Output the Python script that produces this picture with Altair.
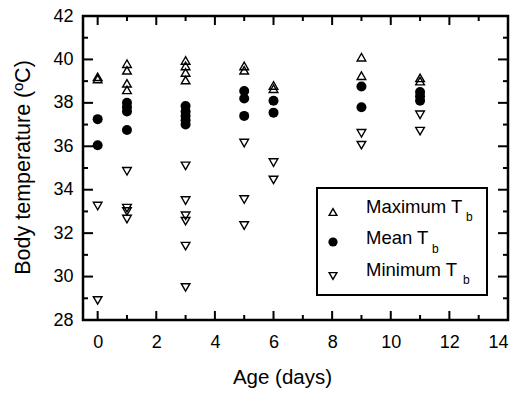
import altair as alt
import pandas as pd

# ---- data ----
max_days = [0, 0, 1, 1, 1, 1, 3, 3, 3, 3, 5, 5, 6, 6, 9, 9, 11, 11]
max_vals = [39.2, 39.1, 39.8, 39.5, 38.9, 38.6, 39.95, 39.7, 39.4, 39.05, 39.7, 39.5, 38.8, 38.65, 40.1, 39.25, 39.15, 39.0]

mean_days = [0, 0, 1, 1, 1, 1, 3, 3, 3, 3, 3, 5, 5, 5, 6, 6, 9, 9, 11, 11, 11]
mean_vals = [37.25, 36.05, 38.0, 37.8, 37.6, 36.75, 37.85, 37.6, 37.4, 37.2, 37.0, 38.55, 38.2, 37.4, 38.1, 37.55, 38.75, 37.8, 38.5, 38.3, 38.1]

min_days = [0, 0, 1, 1, 1, 1, 3, 3, 3, 3, 3, 3, 5, 5, 5, 6, 6, 9, 9, 11, 11]
min_vals = [33.25, 28.9, 34.85, 33.15, 33.0, 32.65, 35.1, 33.5, 32.8, 32.55, 31.4, 29.5, 36.15, 33.55, 32.35, 35.25, 34.45, 36.6, 36.05, 37.45, 36.7]

x_major = [0, 2, 4, 6, 8, 10, 12, 14]
x_minor = [1, 3, 5, 7, 9, 11, 13]
y_major = [28, 30, 32, 34, 36, 38, 40, 42]
y_minor = [29, 31, 33, 35, 37, 39, 41]

legend_labels = ["Maximum T", "Mean T", "Minimum T"]
legend_sub = "b"

W, H = 425, 304
FONT = "Liberation Sans"

xs = alt.Scale(domain=[-0.5, 14], nice=False, zero=False)
ys = alt.Scale(domain=[28, 42], nice=False, zero=False)

df = pd.concat([
    pd.DataFrame({"day": max_days, "temp": max_vals, "series": "max"}),
    pd.DataFrame({"day": mean_days, "temp": mean_vals, "series": "mean"}),
    pd.DataFrame({"day": min_days, "temp": min_vals, "series": "min"}),
])

base = alt.Chart(df)

xaxis = alt.Axis(values=x_major, title="Age (days)", domain=False, ticks=False, grid=False,
                 labelFontSize=18, labelPadding=13, labelFont=FONT, labelColor="black",
                 titleFont=FONT, titleFontSize=20.5, titleFontWeight="normal", titleColor="black",
                 titleX=199, titleY=57, titleBaseline="middle", format="d")
yaxis = alt.Axis(values=y_major, title="Body temperature (ºC)", domain=False, ticks=False, grid=False,
                 labelFontSize=18, labelPadding=10, labelFont=FONT, labelColor="black",
                 titleFont=FONT, titleFontSize=21.5, titleFontWeight="normal", titleColor="black",
                 titleX=-60, titleY=151, titleAngle=-90, titleBaseline="middle", format="d")


def X(f):
    return alt.X(f, scale=xs, axis=xaxis)


def Y(f):
    return alt.Y(f, scale=ys, axis=yaxis)


pts_max = base.transform_filter(alt.datum.series == "max").mark_point(
    shape="triangle-up", filled=False, color="black", strokeWidth=1.4, size=75, opacity=1
).encode(x=X("day:Q"), y=Y("temp:Q"))

pts_mean = base.transform_filter(alt.datum.series == "mean").mark_point(
    shape="circle", filled=True, color="black", size=100, opacity=1
).encode(x=X("day:Q"), y=Y("temp:Q"))

pts_min = base.transform_filter(alt.datum.series == "min").mark_point(
    shape="triangle-down", filled=False, color="black", strokeWidth=1.4, size=75, opacity=1
).encode(x=X("day:Q"), y=Y("temp:Q"))


def xticks(vals, length):
    d = alt.Chart(pd.DataFrame({"day": vals}))
    bot = d.mark_rule(color="black", strokeWidth=2).encode(
        x=X("day:Q"), y=alt.value(H), y2=alt.value(H - length))
    top = d.mark_rule(color="black", strokeWidth=2).encode(
        x=X("day:Q"), y=alt.value(0), y2=alt.value(length))
    return [bot, top]


def yticks(vals, length):
    d = alt.Chart(pd.DataFrame({"temp": vals}))
    left = d.mark_rule(color="black", strokeWidth=2).encode(
        y=Y("temp:Q"), x=alt.value(0), x2=alt.value(length))
    right = d.mark_rule(color="black", strokeWidth=2).encode(
        y=Y("temp:Q"), x=alt.value(W), x2=alt.value(W - length))
    return [left, right]


ticks = xticks(x_major, 9) + xticks(x_minor, 5) + yticks(y_major, 10) + yticks(y_minor, 5)

# ---- hand-drawn legend (for the subscript b) ----
one = alt.Chart(pd.DataFrame({"k": [0]}))
legend_box = one.mark_rect(fill="white", stroke="black", strokeWidth=2).encode(
    x=alt.value(234), x2=alt.value(404), y=alt.value(172), y2=alt.value(279))

leg_rows = [
    ("triangle-up", False, 196, 191, 383, 201),
    ("circle", True, 226, 222, 349, 233),
    ("triangle-down", False, 260, 254, 380, 264),
]
legend_layers = [legend_box]
for (shape, filled, sy, ty, bx, by), lab in zip(leg_rows, legend_labels):
    if filled:
        sym = one.mark_point(shape=shape, filled=True, color="black", size=85, opacity=1)
    else:
        sym = one.mark_point(shape=shape, filled=False, color="black", strokeWidth=1.4, size=60, opacity=1)
    legend_layers.append(sym.encode(x=alt.value(250), y=alt.value(sy)))
    legend_layers.append(one.mark_text(text=lab, align="left", baseline="middle", font=FONT,
                                       fontSize=18.5, color="black").encode(x=alt.value(283), y=alt.value(ty)))
    legend_layers.append(one.mark_text(text=legend_sub, align="left", baseline="middle", font=FONT,
                                       fontSize=12, color="black").encode(x=alt.value(bx), y=alt.value(by)))

chart = alt.layer(pts_max, pts_mean, pts_min, *ticks, *legend_layers).properties(
    width=W, height=H,
    autosize=alt.AutoSizeParams(type="none"),
    padding={"left": 83, "top": 16, "right": 21, "bottom": 79},
    background="white",
).configure_view(stroke="black", strokeWidth=2.5)

chart.save("out.html", embed_options={"renderer": "svg", "actions": False})
